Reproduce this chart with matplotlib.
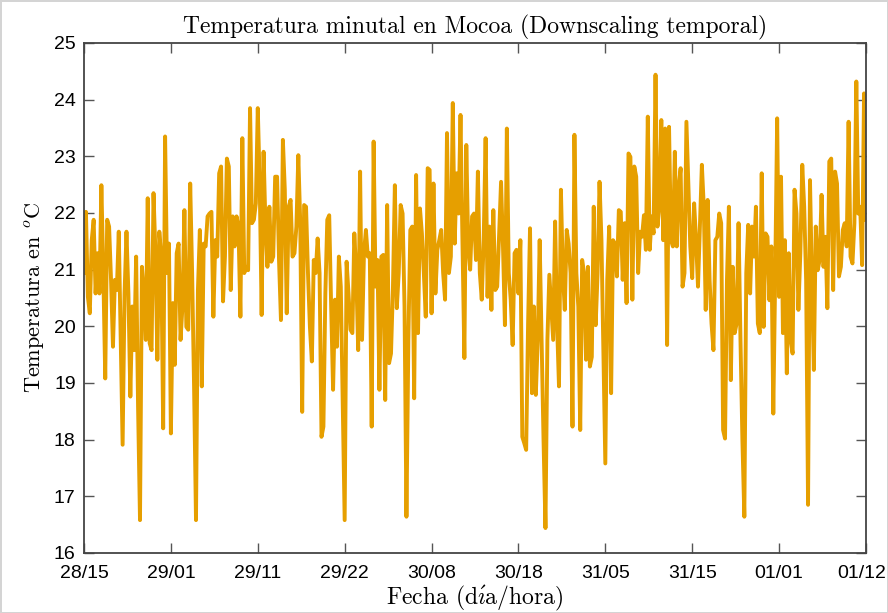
import matplotlib
matplotlib.use('Agg')
import matplotlib.pyplot as plt
import matplotlib.transforms as mtransforms
import numpy as np

plt.rcParams['mathtext.fontset'] = 'cm'

# Temperatura minutal (ºC), de 28/15 a 01/12
temp_a = [20.94, 22.02, 20.52, 20.23, 21.52, 21.88, 20.58, 21.29, 20.58, 22.49,
          20.94, 19.08, 21.88, 21.76, 20.82, 19.64, 20.82, 20.64, 21.67, 19.76,
          17.91, 20.58, 21.67, 20.58, 18.76, 20.35, 19.58, 21.23, 18.58, 16.58,
          21.05, 20.58, 19.76, 22.26, 19.70, 19.58, 22.35, 21.29, 19.41, 21.67,
          21.23, 18.20, 23.35, 20.94, 21.46, 18.11, 20.41, 19.32, 21.29, 21.46,
          19.76, 20.35, 22.05, 19.99, 19.94, 22.52, 20.94, 18.94, 16.58, 20.64,
          21.70, 18.94, 21.46, 21.41, 21.94]
temp_b = [21.99, 22.02, 20.17, 21.52, 21.23, 22.70, 22.82, 20.44, 21.23, 22.96,
          22.82, 20.64, 21.94, 21.41, 21.94, 21.76, 20.17, 23.32, 20.94, 21.05,
          20.99, 23.85, 21.82, 21.88, 22.17, 23.85, 22.52, 20.20, 23.08, 21.76,
          21.05, 22.11, 21.14, 21.23, 22.64, 22.64, 21.17, 20.11, 23.29, 22.41,
          20.23, 22.11, 22.23, 21.23, 21.29, 21.76, 23.02, 21.82, 18.49, 22.14,
          22.11, 20.94, 19.99, 19.38, 21.17, 20.94, 21.55, 20.94, 18.05, 18.23,
          20.58, 21.88, 21.96, 20.35, 18.88, 20.47, 19.64, 21.23, 20.70, 18.58,
          16.58]
temp_c = [21.14, 20.58, 19.94, 19.88, 21.64, 20.94, 19.58, 22.73, 19.76, 21.29,
          21.70, 21.23, 21.29, 18.23, 23.26, 20.70, 21.17, 18.88, 21.23, 21.26,
          18.70, 22.14, 19.35, 19.52, 20.67, 22.49, 20.32, 20.94, 22.14, 21.99,
          20.35, 16.64, 19.76, 21.70, 21.76, 18.73, 22.67, 19.88, 22.08, 21.64,
          20.94, 20.17, 22.79, 22.76, 20.23, 22.52, 20.58, 21.35, 21.52, 21.70,
          20.94, 20.47, 23.41, 20.94, 21.23, 23.94, 21.46, 22.70, 21.99, 23.73,
          21.52, 19.44, 23.20, 21.41, 21.00, 21.94]
temp_d = [21.99, 21.17, 22.73, 20.94, 20.47, 21.52, 23.32, 20.52, 21.76, 20.29,
          22.05, 20.64, 20.70, 21.64, 22.55, 21.41, 20.02, 23.49, 20.94, 20.47,
          19.67, 21.29, 21.35, 20.58, 21.52, 18.05, 17.94, 17.82, 20.05, 21.73,
          18.82, 20.35, 18.79, 19.76, 21.52, 19.76, 17.99, 16.44, 19.76, 20.91,
          20.35, 19.76, 21.85, 20.05, 18.94, 22.41, 20.94, 20.29, 21.70, 21.46,
          20.94, 18.23, 23.38, 20.94, 20.35, 18.17, 21.17, 20.94, 19.41, 21.05,
          19.29, 19.46, 22.11, 20.02, 20.94, 22.55, 21.52]
temp_e = [19.52, 17.58, 20.82, 21.76, 18.82, 21.52, 21.46, 20.88, 22.05, 22.02,
          20.82, 21.82, 20.41, 23.05, 22.99, 20.47, 22.82, 22.64, 20.94, 21.67,
          21.58, 21.96, 21.35, 23.70, 21.35, 21.94, 21.64, 24.44, 21.76, 22.11,
          23.64, 21.52, 23.49, 19.67, 23.52, 21.52, 21.41, 23.08, 21.41, 22.46,
          22.79, 20.70, 20.94, 23.61, 22.52, 21.41, 20.85, 22.17, 21.52, 20.70,
          21.76, 22.85, 22.11, 20.29, 22.23, 20.82, 20.05, 19.58, 21.52, 21.58,
          21.99, 21.82, 18.17, 18.02, 20.82, 22.11]
temp_f = [19.05, 21.05, 19.88, 20.05, 21.82, 19.76, 17.99, 16.64, 20.94, 21.79,
          20.58, 21.76, 21.23, 22.11, 20.05, 19.88, 22.70, 19.99, 21.64, 21.58,
          20.46, 21.41, 18.46, 20.94, 23.67, 20.52, 22.64, 19.88, 21.52, 19.17,
          21.29, 19.76, 19.52, 22.41, 21.99, 20.29, 21.29, 22.85, 22.11, 20.82,
          16.85, 22.58, 20.82, 19.23, 21.76, 20.99, 21.17, 22.32, 21.05, 21.58,
          20.32, 22.91, 22.96, 20.64, 22.73, 22.52, 20.88, 21.05, 21.70, 21.82,
          21.41, 23.61, 21.23, 21.11, 21.82, 24.32, 21.99, 22.11, 21.08, 24.11,
          21.88]

tick_labels = ['28/15', '29/01', '29/11', '29/22', '30/08',
               '30/18', '31/05', '31/15', '01/01', '01/12']
total_horas = 93

temp = np.array(temp_a + temp_b + temp_c + temp_d + temp_e + temp_f)
horas = np.linspace(0, total_horas, len(temp))

fig = plt.figure(figsize=(8.88, 6.13), dpi=100)
fig.patch.set_edgecolor('#d4d4d4')
fig.patch.set_linewidth(2)
ax = fig.add_axes([0.0946, 0.0979, 0.8806, 0.832])

ax.plot(horas, temp, color='#E69F00', linewidth=2.8, solid_joinstyle='round')

ax.set_xlim(0, total_horas)
ax.set_ylim(16, 25)
ax.set_xticks(np.linspace(0, total_horas, len(tick_labels)))
ax.set_xticklabels(tick_labels)
ax.set_yticks(np.arange(16, 26, 1))

ax.tick_params(direction='in', length=7, width=1, color='#555555',
               top=True, right=True)
ax.tick_params(axis='x', pad=9)
ax.tick_params(axis='y', pad=6)
for s in ax.spines.values():
    s.set_color('#444444')
    s.set_linewidth(1.3)

for lbl in ax.get_xticklabels() + ax.get_yticklabels():
    lbl.set_family(['Liberation Sans', 'DejaVu Sans'])
    lbl.set_fontsize(14)

# la ultima etiqueta queda pegada al borde, se corre un poco a la izquierda
ultima = ax.get_xticklabels()[-1]
ultima.set_transform(ultima.get_transform() +
                     mtransforms.ScaledTranslation(-3 / 72, 0, fig.dpi_scale_trans))

serif = ['cmr10', 'DejaVu Serif']
ax.set_title('Temperatura minutal en Mocoa (Downscaling temporal)',
             family=serif, fontsize=17, pad=7)
ax.set_xlabel(r'Fecha (d$\acute{\imath}$a/hora)', family=serif,
              fontsize=17, labelpad=1)
ax.set_ylabel(r'Temperatura en $^o$C', family=serif,
              fontsize=16, labelpad=5)

fig.savefig('out.png', dpi=100, edgecolor=fig.patch.get_edgecolor())
